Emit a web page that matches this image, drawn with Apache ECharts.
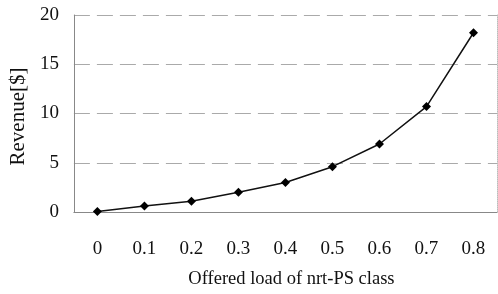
<!DOCTYPE html>
<html>
<head>
<meta charset="utf-8">
<script src="https://cdn.jsdelivr.net/npm/echarts@6/dist/echarts.min.js"></script>
<style>
  html, body { margin: 0; padding: 0; background: #fff; }
  #chart { width: 498px; height: 294px; }
</style>
</head>
<body>
<div id="chart"></div>
<script>
// offered load of nrt-PS class
const loads = ['0', '0.1', '0.2', '0.3', '0.4', '0.5', '0.6', '0.7', '0.8'];
// revenue [$]
const revenue = [0.05, 0.6, 1.1, 2.0, 3.0, 4.6, 6.9, 10.7, 18.2];
const yTicks = [0, 5, 10, 15, 20];

const font = 'Liberation Serif';
const chart = echarts.init(document.getElementById('chart'));

chart.setOption({
    animation: false,
    grid: { left: 73, right: 1, top: 15, bottom: 79 },
    xAxis: {
        type: 'category',
        data: loads,
        boundaryGap: true,
        name: 'Offered load of nrt-PS class',
        nameLocation: 'middle',
        nameGap: 58,
        nameTextStyle: { fontFamily: font, fontSize: 18.5, color: '#111', padding: [0, 0, 0, 12] },
        axisLine: { lineStyle: { color: '#888', width: 1 } },
        axisTick: { show: false },
        axisLabel: { fontFamily: font, fontSize: 19, color: '#111', margin: 28 },
        splitLine: { show: false }
    },
    yAxis: [{
        type: 'value',
        min: yTicks[0],
        max: yTicks[yTicks.length - 1],
        interval: 5,
        name: 'Revenue[$]',
        nameLocation: 'middle',
        nameGap: 38,
        nameTextStyle: { fontFamily: font, fontSize: 21, color: '#111', padding: [0, 6, 0, 0] },
        axisLine: { show: true, lineStyle: { color: '#888', width: 1 } },
        axisTick: { show: false },
        axisLabel: { fontFamily: font, fontSize: 19, color: '#111', margin: 15 },
        splitLine: { lineStyle: { color: '#aaa', type: [16, 7], width: 1 } }
    }, {
        // dotted frame on the right
        type: 'value',
        position: 'right',
        min: yTicks[0],
        max: yTicks[yTicks.length - 1],
        interval: 5,
        axisLine: { show: true, lineStyle: { color: '#bbb', type: 'dotted', width: 1 } },
        axisTick: { show: false },
        axisLabel: { show: false },
        splitLine: { show: false }
    }],
    series: [{
        type: 'line',
        data: revenue,
        symbol: 'diamond',
        symbolSize: 9,
        itemStyle: { color: '#000' },
        lineStyle: { color: '#111', width: 1.5 }
    }]
});
</script>
</body>
</html>
